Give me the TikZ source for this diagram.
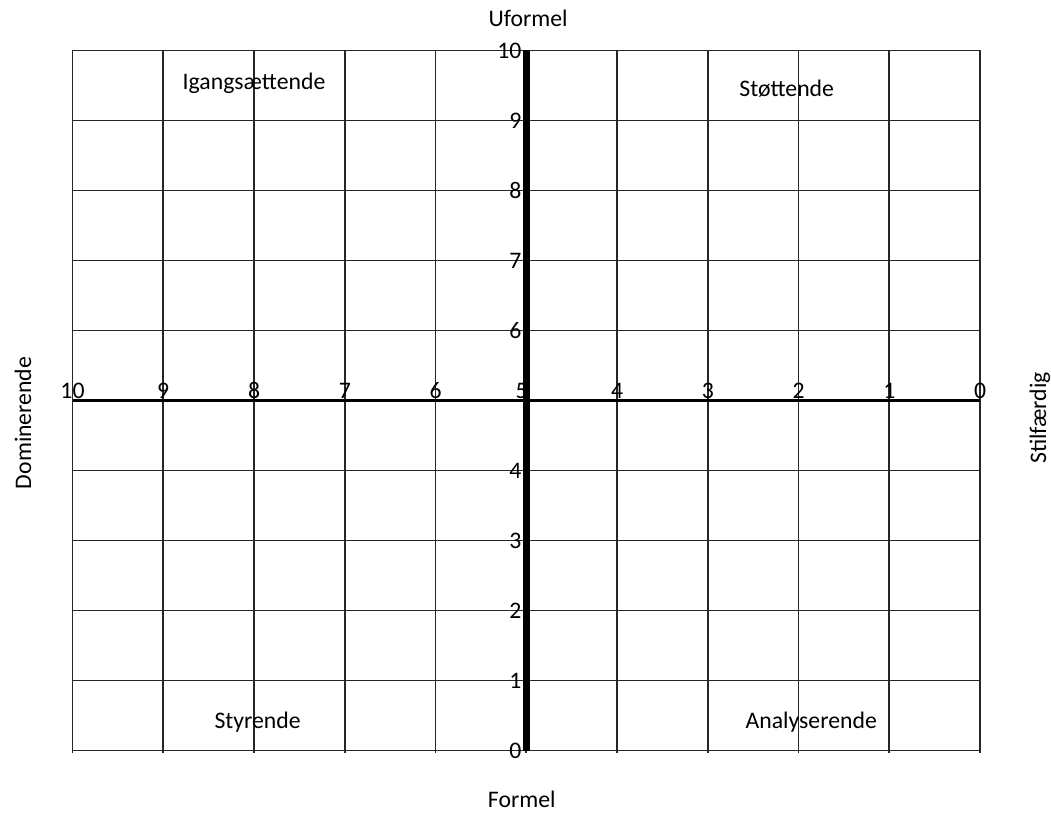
\documentclass[tikz,border=0pt]{standalone}
\usepackage{fontspec}
\setmainfont{Carlito}
\tikzset{
  gridline/.style={line width=1.2pt, black!85},
  axisline/.style={black, line cap=butt},
  numlabel/.style={inner sep=0pt},
  quadlabel/.style={anchor=base, inner sep=0pt},
}
\begin{document}
\begin{tikzpicture}[x=68.06pt, y=52.5pt, font=\fontsize{17.8}{21}\selectfont]
	\useasboundingbox (-0.799,-0.936) rectangle (10.782,10.721);
	
	% gitter
	\foreach \i in {0,...,10} {
		\draw[gridline] (\i,-0.03) -- (\i,10);
		\draw[gridline] (0,\i) -- (10,\i);
	}
	
	% akser
	\draw[axisline, line width=2.8pt] (0,5) -- (10,5);
	\draw[axisline, line width=5pt] (5,0) -- (5,10);
	
	% tal paa akserne
	\foreach \i in {0,1,2,3,4,6,7,8,9,10}
		\node[numlabel, anchor=east] (v\i) at (4.95,\i) {\i};
	\foreach \i in {0,1,2,3,4,6,7,8,9,10} {
		\pgfmathtruncatemacro\n{10-\i}
		\node[numlabel, anchor=south] (h\i) at (\i,5.02) {\n};
	}
	\node[numlabel, anchor=south] (mid) at (4.95,5.02) {5};
	
	% aksetitler
	\node[quadlabel] (uformel) at (5.02,10.34) {Uformel};
	\node[quadlabel] (formel) at (4.95,-0.82) {Formel};
	\node[rotate=90, inner sep=0pt] (dom) at (-0.545,4.68) {Dominerende};
	\node[rotate=90, inner sep=0pt] (stil) at (10.66,4.75) {Stilfærdig};
	
	% kvadranter
	\node[quadlabel] (igang) at (2.0,9.44) {Igangsættende};
	\node[quadlabel] (stoet) at (7.87,9.34) {Støttende};
	\node[quadlabel] (styr) at (2.04,0.32) {Styrende};
	\node[quadlabel] (analyse) at (8.14,0.32) {Analyserende};
\end{tikzpicture}
\end{document}
